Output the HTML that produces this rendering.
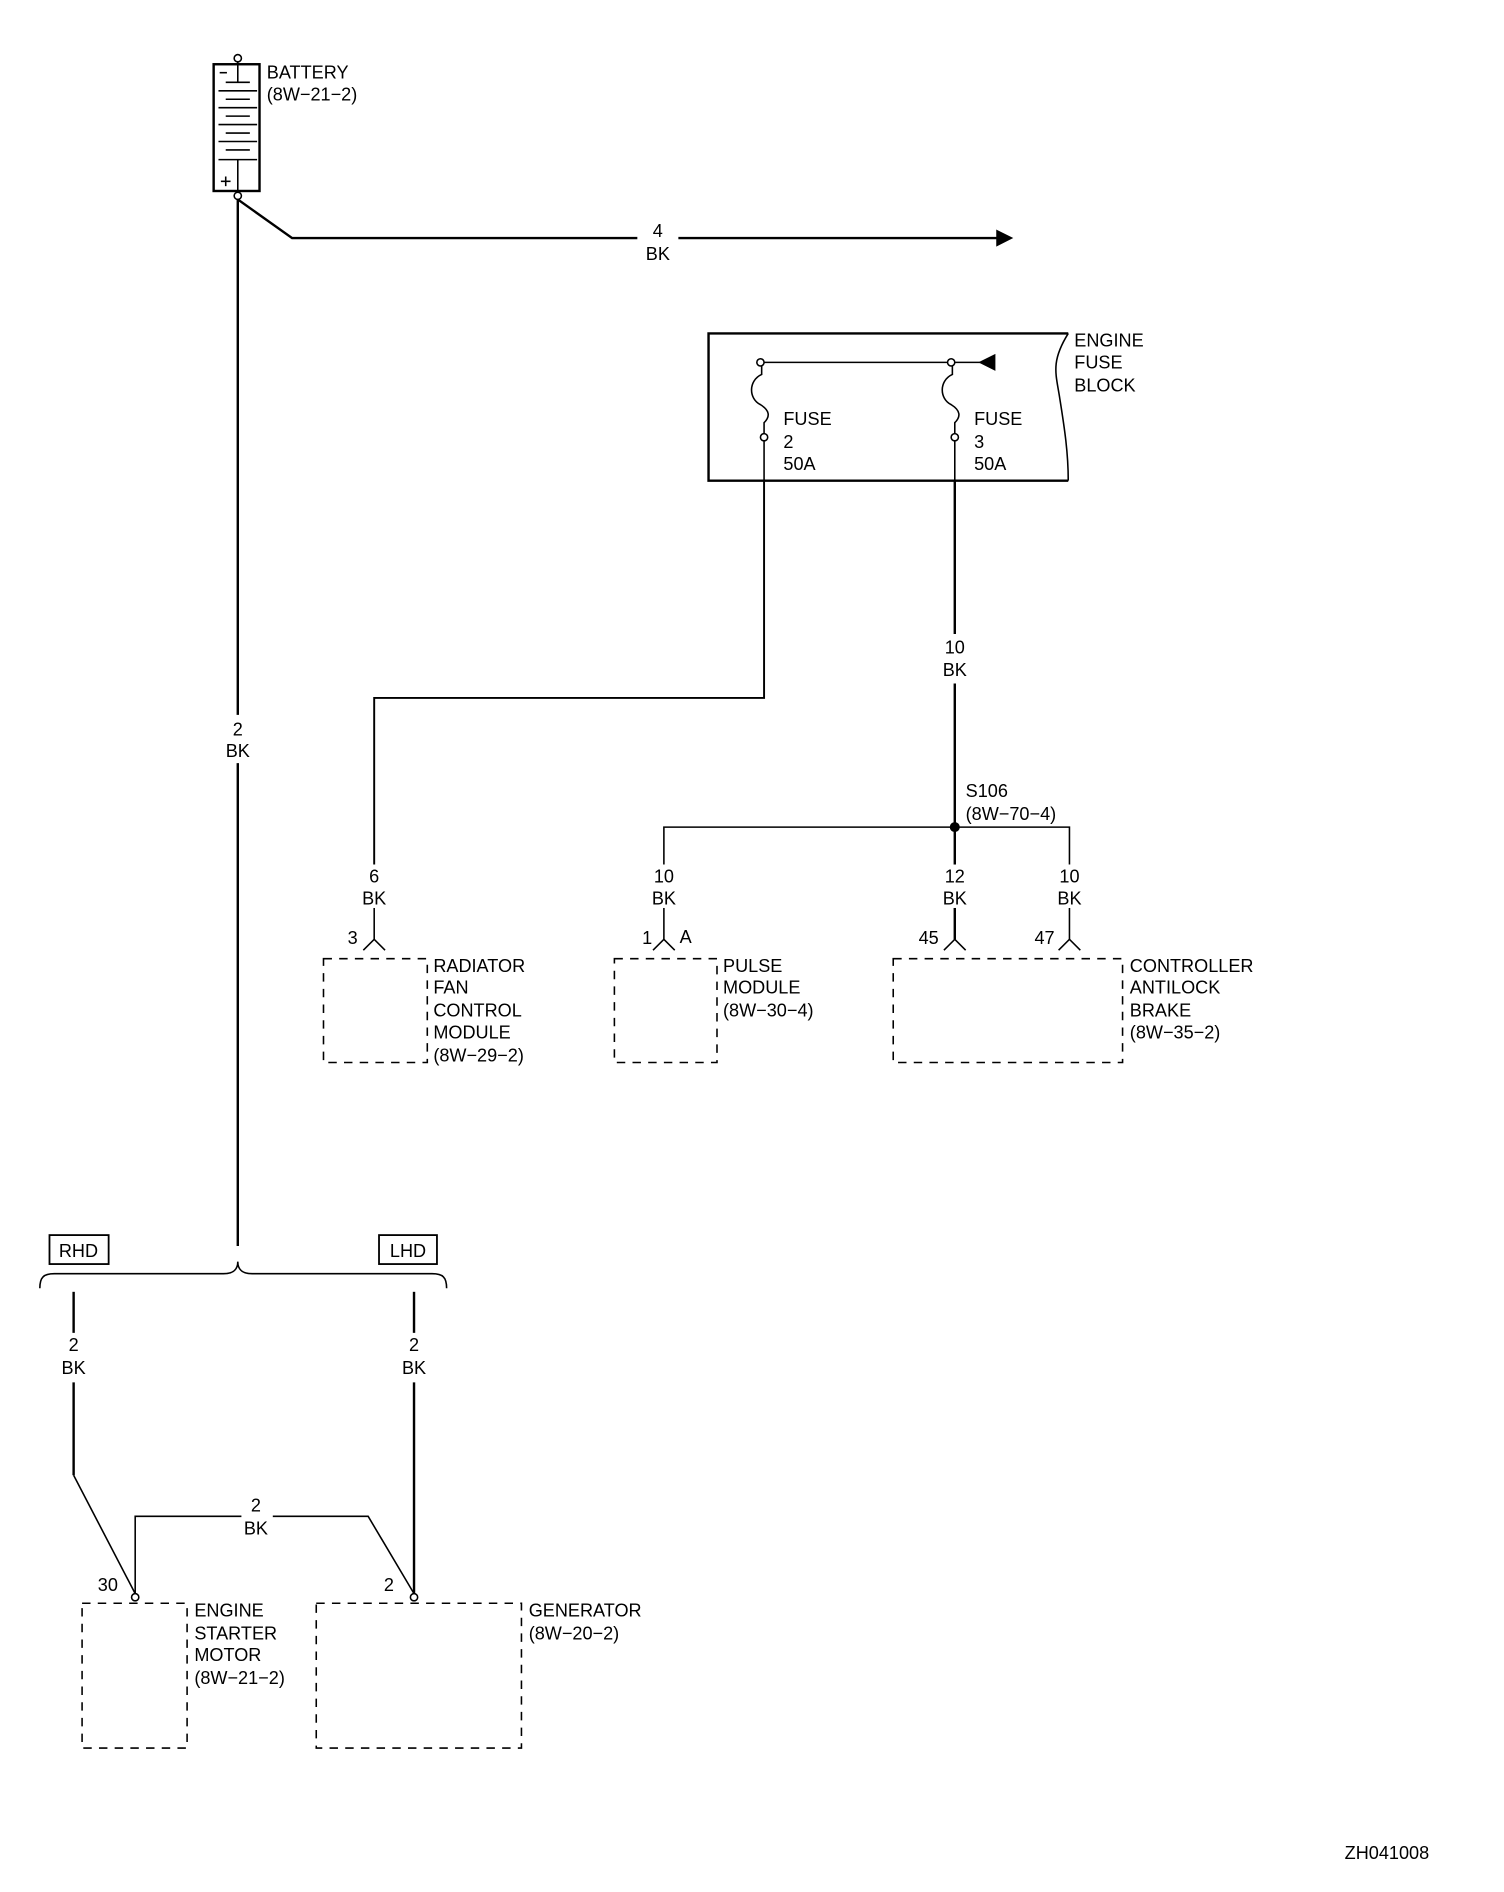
<!DOCTYPE html>
<html><head><meta charset="utf-8"><style>
html,body{margin:0;padding:0;background:#fff}
svg{display:block}
text{font-family:"Liberation Sans",Arial,sans-serif;font-size:15px;fill:#000}
</style></head><body>
<svg width="1504" height="1892" viewBox="0 0 1246 1567" xmlns="http://www.w3.org/2000/svg">
<g fill="none" stroke="#000" stroke-width="1.3">
<!-- battery -->
<rect x="177" y="53" width="38" height="105" stroke-width="2"/>
<circle cx="197" cy="48" r="3" fill="#fff"/>
<circle cx="197" cy="162" r="3" fill="#fff"/>
<line x1="197" y1="51" x2="197" y2="68"/>
<line x1="187" y1="68" x2="207" y2="68"/>
<line x1="182" y1="60" x2="188" y2="60"/>
<line x1="181" y1="75" x2="213" y2="75"/><line x1="187" y1="82" x2="207" y2="82"/>
<line x1="181" y1="89" x2="213" y2="89"/><line x1="187" y1="96" x2="207" y2="96"/>
<line x1="181" y1="103" x2="213" y2="103"/><line x1="187" y1="110" x2="207" y2="110"/>
<line x1="181" y1="117" x2="213" y2="117"/><line x1="187" y1="124" x2="207" y2="124"/>
<line x1="181" y1="132" x2="213" y2="132"/>
<line x1="197" y1="132" x2="197" y2="159"/>
<line x1="183" y1="150" x2="191" y2="150"/><line x1="187" y1="146" x2="187" y2="154"/>
<!-- main wires -->
<g stroke-width="2">
<polyline points="197,165 242,197 528,197"/>
<line x1="562" y1="197" x2="826" y2="197"/>
<line x1="197" y1="165" x2="197" y2="592"/>
<line x1="197" y1="632" x2="197" y2="1032"/>
<line x1="791" y1="398" x2="791" y2="525"/>
<line x1="791" y1="566" x2="791" y2="685"/>
<line x1="791" y1="685" x2="791" y2="716"/>
<line x1="61" y1="1070" x2="61" y2="1104"/>
<line x1="61" y1="1145" x2="61" y2="1222"/>
<line x1="343" y1="1070" x2="343" y2="1104"/>
<line x1="343" y1="1145" x2="343" y2="1320"/>
</g>
<polygon points="826,191 838,197 826,203" fill="#000"/>
<!-- fuse block -->
<polyline points="885,276 587,276 587,398 885,398" stroke-width="2"/>
<path d="M885,276 C870,300 875,310 878,330 C882,355 885,375 885,398" stroke-width="1.3"/>
<circle cx="630" cy="300" r="3" fill="#fff"/>
<circle cx="788" cy="300" r="3" fill="#fff"/>
<line x1="633" y1="300" x2="785" y2="300"/>
<line x1="791" y1="300" x2="812" y2="300"/>
<polygon points="812,300 824,294 824,306" fill="#000"/>
<path d="M631,303 L631,310 C620,315 620,330 630,335 C638,340 638,345 633,350 L633,359"/>
<path d="M789,303 L789,310 C778,315 778,330 788,335 C796,340 796,345 791,350 L791,359"/>
<circle cx="633" cy="362" r="3" fill="#fff"/>
<circle cx="791" cy="362" r="3" fill="#fff"/>
<line x1="633" y1="365" x2="633" y2="398"/>
<line x1="791" y1="365" x2="791" y2="398"/>
<polyline points="633,398 633,578 310,578 310,716" stroke-width="1.6"/>
<!-- splice -->
<circle cx="791" cy="685" r="3.5" fill="#000"/>
<polyline points="550,716 550,685 886,685 886,716"/>
<!-- connector stubs -->
<line x1="310" y1="752" x2="310" y2="778"/><polyline points="301,787 310,778 319,787"/>
<line x1="550" y1="752" x2="550" y2="778"/><polyline points="541,787 550,778 559,787"/>
<line x1="791" y1="752" x2="791" y2="778" stroke-width="2"/><polyline points="782,787 791,778 800,787"/>
<line x1="886" y1="752" x2="886" y2="778"/><polyline points="877,787 886,778 895,787"/>
<!-- dashed boxes -->
<g stroke-dasharray="7,6">
<rect x="268" y="794" width="86" height="86"/>
<rect x="509" y="794" width="85" height="86"/>
<rect x="740" y="794" width="190" height="86"/>
<rect x="68" y="1328" width="87" height="120"/>
<rect x="262" y="1328" width="170" height="120"/>
</g>
<!-- brace -->
<path d="M33,1067 C33,1058 36,1055 45,1055 L185,1055 C193,1055 197,1052 197,1045 C197,1052 201,1055 209,1055 L358,1055 C367,1055 370,1058 370,1067"/>
<rect x="41" y="1023" width="49" height="24" stroke-width="1.5"/>
<rect x="314" y="1023" width="48" height="24" stroke-width="1.5"/>
<line x1="61" y1="1222" x2="112" y2="1320"/>
<polyline points="112,1320 112,1256 200,1256"/>
<polyline points="226,1256 305,1256 343,1320"/>
<circle cx="112" cy="1323" r="3" fill="#fff"/>
<circle cx="343" cy="1323" r="3" fill="#fff"/>
</g>
<g>
<text x="221" y="65">BATTERY</text>
<text x="221" y="83">(8W−21−2)</text>
<text x="545" y="196" text-anchor="middle">4</text>
<text x="545" y="215" text-anchor="middle">BK</text>
<text x="890" y="287">ENGINE</text>
<text x="890" y="305">FUSE</text>
<text x="890" y="324">BLOCK</text>
<text x="649" y="352">FUSE</text><text x="649" y="371">2</text><text x="649" y="389">50A</text>
<text x="807" y="352">FUSE</text><text x="807" y="371">3</text><text x="807" y="389">50A</text>
<text x="791" y="541" text-anchor="middle">10</text><text x="791" y="560" text-anchor="middle">BK</text>
<text x="197" y="609" text-anchor="middle">2</text><text x="197" y="627" text-anchor="middle">BK</text>
<text x="800" y="660">S106</text><text x="800" y="679">(8W−70−4)</text>
<text x="310" y="731" text-anchor="middle">6</text><text x="310" y="749" text-anchor="middle">BK</text>
<text x="550" y="731" text-anchor="middle">10</text><text x="550" y="749" text-anchor="middle">BK</text>
<text x="791" y="731" text-anchor="middle">12</text><text x="791" y="749" text-anchor="middle">BK</text>
<text x="886" y="731" text-anchor="middle">10</text><text x="886" y="749" text-anchor="middle">BK</text>
<text x="288" y="782">3</text>
<text x="532" y="782">1</text><text x="563" y="781">A</text>
<text x="761" y="782">45</text>
<text x="857" y="782">47</text>
<text x="359" y="805">RADIATOR</text><text x="359" y="823">FAN</text><text x="359" y="842">CONTROL</text><text x="359" y="860">MODULE</text><text x="359" y="879">(8W−29−2)</text>
<text x="599" y="805">PULSE</text><text x="599" y="823">MODULE</text><text x="599" y="842">(8W−30−4)</text>
<text x="936" y="805">CONTROLLER</text><text x="936" y="823">ANTILOCK</text><text x="936" y="842">BRAKE</text><text x="936" y="860">(8W−35−2)</text>
<text x="65" y="1041" text-anchor="middle">RHD</text>
<text x="338" y="1041" text-anchor="middle">LHD</text>
<text x="61" y="1119" text-anchor="middle">2</text><text x="61" y="1138" text-anchor="middle">BK</text>
<text x="343" y="1119" text-anchor="middle">2</text><text x="343" y="1138" text-anchor="middle">BK</text>
<text x="212" y="1252" text-anchor="middle">2</text><text x="212" y="1271" text-anchor="middle">BK</text>
<text x="81" y="1318">30</text>
<text x="318" y="1318">2</text>
<text x="161" y="1339">ENGINE</text><text x="161" y="1358">STARTER</text><text x="161" y="1376">MOTOR</text><text x="161" y="1395">(8W−21−2)</text>
<text x="438" y="1339">GENERATOR</text><text x="438" y="1358">(8W−20−2)</text>
<text x="1114" y="1540">ZH041008</text>
</g>
</svg>
</body></html>
